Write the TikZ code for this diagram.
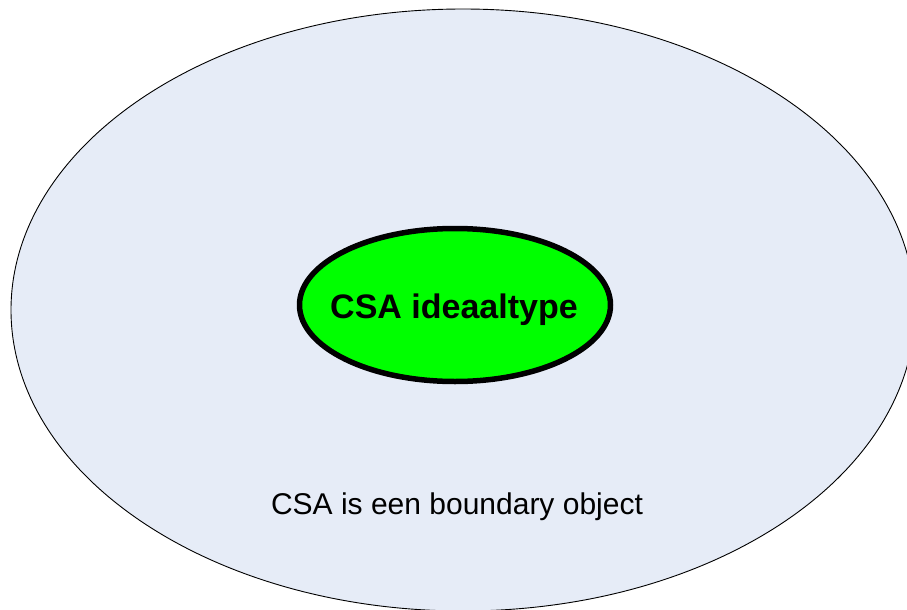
\documentclass[tikz,border=0pt]{standalone}
\usepackage{fontspec}
\setmainfont{Liberation Sans}
\usetikzlibrary{shapes.geometric}
\definecolor{paleblue}{HTML}{E6ECF7}
\definecolor{brightgreen}{HTML}{00FF00}
\tikzset{
  outer/.style={ellipse, draw=black, line width=0.9pt, fill=paleblue,
    minimum width=904pt, minimum height=602pt, inner sep=0pt},
  inner/.style={ellipse, draw=black, line width=5.5pt, fill=brightgreen,
    minimum width=311pt, minimum height=153pt, inner sep=0pt},
  boldlabel/.style={font=\fontsize{34}{38}\selectfont\bfseries, inner sep=0pt, anchor=base},
  caption/.style={font=\fontsize{30}{34}\selectfont, inner sep=0pt, anchor=base}
}
\begin{document}
\begin{tikzpicture}[x=1pt,y=-1pt]
  \useasboundingbox (0,0) rectangle (907,610);
  \clip (0,0) rectangle (907,610);
  \node[outer] (field) at (463,310) {};
  \node[inner] (ideal) at (455,305) {};
  \node[boldlabel] (idealtext) at (454,318) {CSA ideaaltype};
  \node[caption] (boundary) at (457,514) {CSA is een boundary object};
\end{tikzpicture}
\end{document}
